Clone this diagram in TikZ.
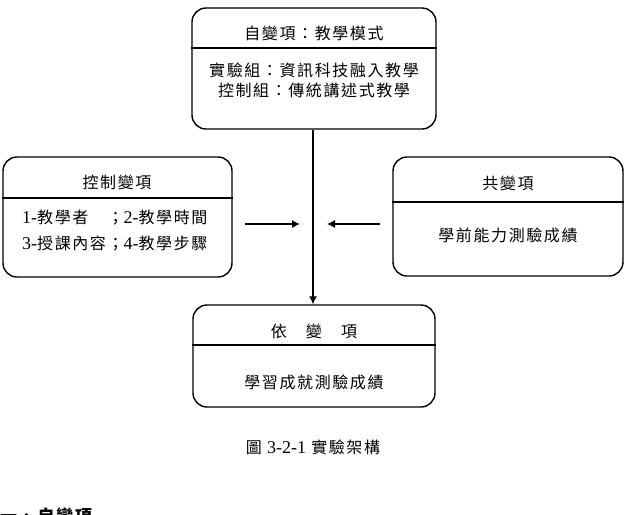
\documentclass[tikz,border=0pt]{standalone}
\usepackage{fontspec}
\setmainfont{Liberation Serif}
\newfontfamily\cjk[LetterSpace=10]{Noto Sans CJK TC}
\usetikzlibrary{arrows.meta}
\tikzset{
  vbox/.style={draw, line width=1.4pt, rounded corners=14pt, inner sep=0pt},
  divider/.style={line width=1.2pt},
  lbl/.style={font=\fontsize{16}{18}\selectfont\cjk, inner sep=0pt},
  num/.style={},
  conn/.style={line width=1.2pt, -{Latex[length=8pt,width=8pt]}},
}
\newcommand{\dg}[1]{{\rmfamily\fontsize{18}{18}\selectfont #1}}
\begin{document}
\begin{tikzpicture}[x=1pt,y=-1pt]
\useasboundingbox (0,0) rectangle (625,515);
\clip (0,0) rectangle (625,515);
% boxes
\node[vbox, minimum width=244pt, minimum height=121pt] (iv) at (314,68.5) {};
\node[vbox, minimum width=229pt, minimum height=120pt] (cv) at (117.5,217) {};
\node[vbox, minimum width=230pt, minimum height=119pt] (co) at (508,216.5) {};
\node[vbox, minimum width=242pt, minimum height=102pt] (dv) at (314,356) {};
% dividers
\draw[divider] (iv.west |- 0,48) -- (iv.east |- 0,48);
\draw[divider] (cv.west |- 0,198) -- (cv.east |- 0,198);
\draw[divider] (co.west |- 0,202) -- (co.east |- 0,202);
\draw[divider] (dv.west |- 0,345) -- (dv.east |- 0,345);
% texts
\node[lbl] (ivt) at (314,33) {自變項：教學模式};
\node[lbl] (iv1) at (314,70) {實驗組：資訊科技融入教學};
\node[lbl] (iv2) at (314,90) {控制組：傳統講述式教學};
\node[lbl] (cvt) at (117,182) {控制變項};
\node[lbl, anchor=west] (cv1) at (22,218) {\dg{1-}教學者　；\dg{2-}教學時間};
\node[lbl, anchor=west] (cv2) at (22,244) {\dg{3-}授課內容；\dg{4-}教學步驟};
\node[lbl] (cot) at (508,183) {共變項};
\node[lbl] (co1) at (508,235) {學前能力測驗成績};
\node[lbl] (dvt) at (314,331) {依　變　項};
\node[lbl] (dv1) at (314,382) {學習成就測驗成績};
\node[lbl] (cap) at (313,447) {圖 \dg{3-2-1} 實驗架構};
\node[lbl, font=\fontsize{17}{18}\selectfont\cjk\bfseries, anchor=west] (sec) at (0,516) {一、自變項};
% connectors
\coordinate (la) at (245,224);
\coordinate (lb) at (300,224);
\coordinate (ra) at (380,224);
\coordinate (rb) at (327,224);
\draw[conn] (iv.south -| 313,0) -- (dv.north -| 313,0);
\draw[conn] (la) -- (lb);
\draw[conn] (ra) -- (rb);
\end{tikzpicture}
\end{document}
